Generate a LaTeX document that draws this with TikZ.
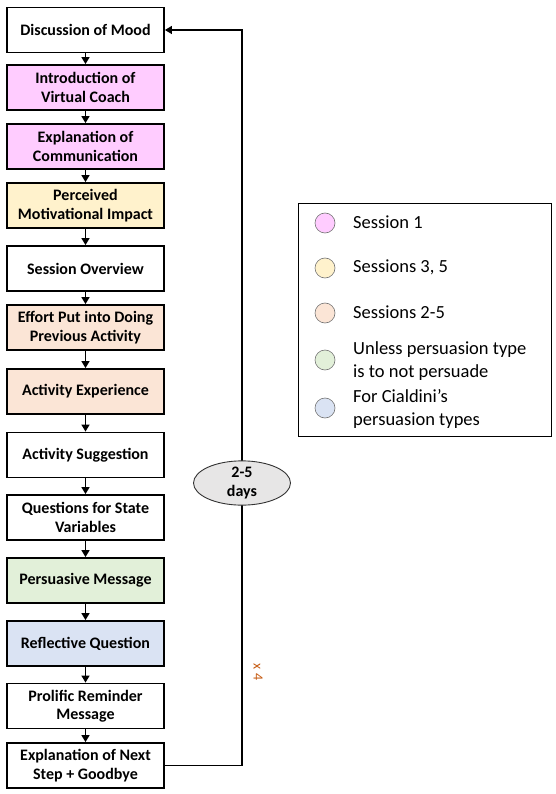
\documentclass[tikz,border=0pt]{standalone}
\usepackage{fontspec}
\setmainfont{Carlito}
\usetikzlibrary{arrows.meta,shapes.geometric}
\definecolor{cpink}{HTML}{FFCCFF}
\definecolor{cyellow}{HTML}{FFF2CC}
\definecolor{cpeach}{HTML}{FBE5D6}
\definecolor{cgreen}{HTML}{E2F0D9}
\definecolor{cblue}{HTML}{DAE3F3}
\definecolor{cgrey}{HTML}{E7E6E6}
\definecolor{corange}{HTML}{C55A11}
\tikzset{
  stepbox/.style={draw=black, line width=1.8pt, rectangle, minimum width=157pt, minimum height=45pt,
    align=center, font=\fontsize{16}{18.3}\selectfont\bfseries, inner sep=1pt},
  flow/.style={line width=1.4pt, -{Triangle[width=8pt,length=7pt]}},
  legcirc/.style={circle, draw=black!55, line width=0.6pt, minimum size=20pt, inner sep=0pt},
  legtext/.style={anchor=west, align=left, font=\fontsize{18.5}{23}\selectfont, inner sep=0pt},
}
\begin{document}
\begin{tikzpicture}[x=1pt,y=-1pt]
\useasboundingbox (0,0) rectangle (556,794);
\node[stepbox] (n1) at (85.5,30) {Discussion of Mood};
\node[stepbox, fill=cpink] (n2) at (85.5,87.5) {Introduction of\\Virtual Coach};
\node[stepbox, fill=cpink] (n3) at (85.5,146.5) {Explanation of\\Communication};
\node[stepbox, fill=cyellow] (n4) at (85.5,205.5) {Perceived\\Motivational Impact};
\node[stepbox] (n5) at (85.5,268.5) {Session Overview};
\node[stepbox, fill=cpeach] (n6) at (85.5,327.5) {Effort Put into Doing\\Previous Activity};
\node[stepbox, fill=cpeach] (n7) at (85.5,391.5) {Activity Experience};
\node[stepbox] (n8) at (85.5,455) {Activity Suggestion};
\node[stepbox] (n9) at (85.5,517.5) {Questions for State\\Variables};
\node[stepbox, fill=cgreen] (n10) at (85.5,580.5) {Persuasive Message};
\node[stepbox, fill=cblue] (n11) at (85.5,643.5) {Reflective Question};
\node[stepbox] (n12) at (85.5,706) {Prolific Reminder\\Message};
\node[stepbox] (n13) at (85.5,765.5) {Explanation of Next\\Step + Goodbye};
\foreach \a/\b in {n1/n2,n2/n3,n3/n4,n4/n5,n5/n6,n6/n7,n7/n8,n8/n9,n9/n10,n10/n11,n11/n12,n12/n13}
  \draw[flow] (\a.south) -- (\b.north);
\coordinate (c1) at (242,765.5);
\coordinate (c2) at (242,30);
\draw[flow] (n13.east) -- (c1) -- (c2) -- (n1.east);
\node[ellipse, draw=black!80, line width=0.9pt, fill=cgrey, minimum width=97pt, minimum height=43pt,
  inner sep=0pt, align=center, font=\fontsize{16}{18.3}\selectfont\bfseries] (days) at (242,483) {2-5\\days};
\node[rotate=-90, text=corange, font=\fontsize{14}{16}\selectfont, inner sep=0pt] (x4) at (258,672) {x 4};
% legend
\node[draw=black, line width=0.9pt, rectangle, minimum width=253pt, minimum height=233pt] (leg) at (424.5,319.5) {};
\node[legcirc, fill=cpink] (l1) at (325,223) {};
\node[legcirc, fill=cyellow] (l2) at (325,268) {};
\node[legcirc, fill=cpeach] (l3) at (325,313) {};
\node[legcirc, fill=cgreen] (l4) at (325,360) {};
\node[legcirc, fill=cblue] (l5) at (325,408) {};
\node[legtext] (t1) at (353,222) {Session 1};
\node[legtext] (t2) at (353,267) {Sessions 3, 5};
\node[legtext] (t3) at (353,312) {Sessions 2-5};
\node[legtext] (t4) at (353,361) {Unless persuasion type\\is to not persuade};
\node[legtext] (t5) at (353,409) {For Cialdini’s\\persuasion types};
\end{tikzpicture}
\end{document}
